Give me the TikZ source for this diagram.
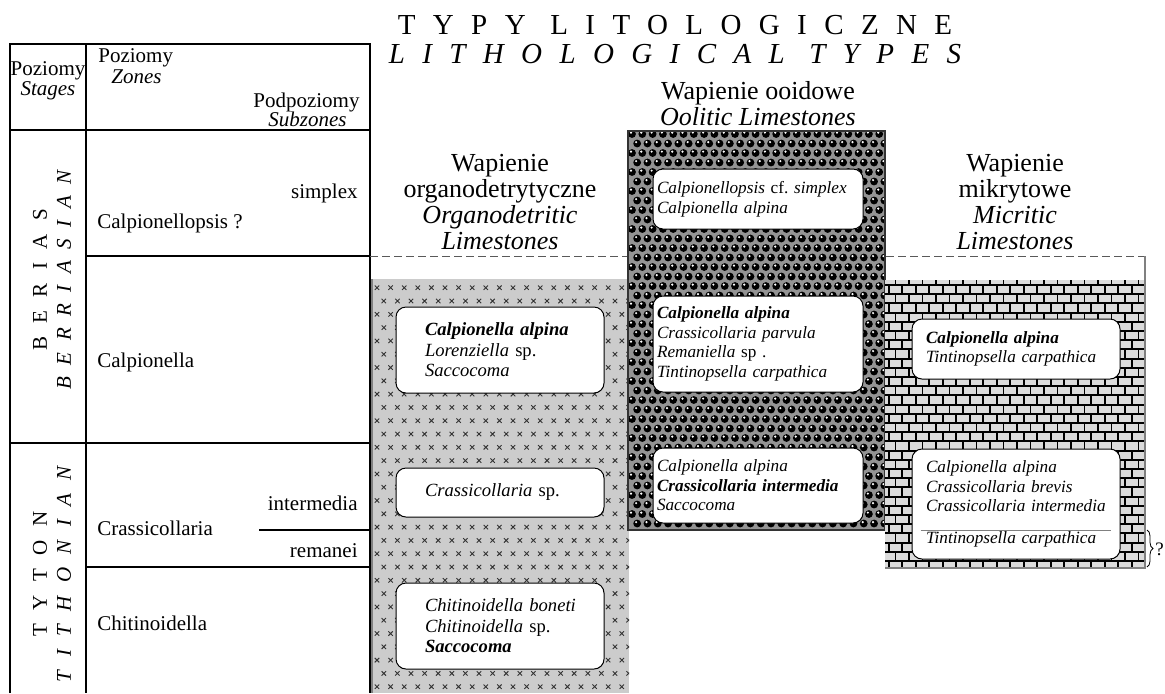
\documentclass[tikz,border=0pt]{standalone}
\usepackage{fontspec}
\setmainfont{Liberation Serif}
\usetikzlibrary{calc,decorations.pathreplacing}

\definecolor{detrgray}{gray}{0.80}
\definecolor{ooidgray}{gray}{0.58}
\definecolor{brickgray}{gray}{0.86}
\definecolor{dashgray}{gray}{0.35}

\newcommand{\spaced}[2]{{\addfontfeature{LetterSpace=#1}#2}}
% left padding inside a fossil box, lines kept unbroken
\newcommand{\fossiltext}[2]{\leftskip=#1\rightskip=-15pt plus 1fil\relax #2\par}

\tikzset{
  tabline/.style={line width=0.6pt},
  tabtext/.style={inner sep=0pt, font=\fontsize{10.5}{12}\selectfont},
  headtext/.style={inner sep=0pt, align=center, font=\fontsize{13}{13}\selectfont},
  titletext/.style={inner sep=0pt, font=\fontsize{14.5}{14.5}\selectfont},
  fossilbox/.style={draw, fill=white, rounded corners=5pt, line width=0.5pt,
    inner xsep=1pt, inner ysep=0pt, align=left, font=\fontsize{9.3}{10.3}\selectfont},
  smallbox/.style={fossilbox, font=\fontsize{8.6}{9.8}\selectfont},
  xmark/.style={line width=0.45pt, black!80},
  brickline/.style={line width=0.95pt, black},
}

\begin{document}
\begin{tikzpicture}[x=0.5pt,y=-0.5pt]
\useasboundingbox (0,0) rectangle (1165,693);

% title
\node[titletext] (titlePL) at (675,25) {\spaced{60}{TYPY LITOLOGICZNE}};
\node[titletext] (titleEN) at (675,54) {\itshape\spaced{60}{LITHOLOGICAL TYPES}};

% stratigraphic table
\draw[tabline] (10,693) -- (10,44) -- (370,44) -- (370,693);
\draw[tabline] (86,44) -- (86,693);
\draw[tabline] (10,130) -- (370,130);
\draw[tabline] (86,256) -- (370,256);
\draw[tabline] (10,443) -- (370,443);
\draw[tabline] (259,530) -- (370,530);
\draw[tabline] (86,567) -- (370,567);

\node[tabtext] (stagesPL) at (48,71) {Poziomy};
\node[tabtext] (stagesEN) at (48,91) {\textit{Stages}};
\node[tabtext, anchor=west] (zonesPL) at (98,58) {Poziomy};
\node[tabtext, anchor=west] (zonesEN) at (111,77) {\textit{Zones}};
\node[tabtext, anchor=west] (subPL) at (253,102) {Podpoziomy};
\node[tabtext, anchor=west] (subEN) at (268,119) {\textit{Subzones}};

\node[tabtext, rotate=90, align=center] (stageBer) at (52,280)
  {\spaced{64}{BERIAS}\\\itshape\spaced{55}{BERRIASIAN}};
\node[tabtext, rotate=90, align=center] (stageTyt) at (52,574)
  {\spaced{64}{TYTON}\\\itshape\spaced{64}{TITHONIAN}};

\node[tabtext, anchor=east] (simplex) at (358,193) {simplex};
\node[tabtext, anchor=west] (zoneCps) at (97,223) {Calpionellopsis ?};
\node[tabtext, anchor=west] (zoneCal) at (97,362) {Calpionella};
\node[tabtext, anchor=west] (zoneCra) at (97,528) {Crassicollaria};
\node[tabtext, anchor=east] (intermedia) at (358,503) {intermedia};
\node[tabtext, anchor=east] (remanei) at (358,551) {remanei};
\node[tabtext, anchor=west] (zoneChi) at (97,623) {Chitinoidella};

% boundary Berias/Calpionellopsis in the columns
\draw[dashgray, dash pattern=on 4pt off 2pt, line width=0.5pt] (370,256) -- (1145,256);

% organodetritic limestones
\fill[detrgray] (371,279) rectangle (629,693);
\begin{scope}
  \clip (371,279) rectangle (629,693);
  \foreach \r in {0,...,31}
    \foreach \c in {0,...,19}
      \draw[xmark, shift={({377+13.6*\c+6.8*mod(\r,2)},{287.7+13.3*\r})}]
        (-2.2,-2.2) -- (2.2,2.2) (-2.2,2.2) -- (2.2,-2.2);
\end{scope}
\draw[gray, line width=0.8pt] (372,279) -- (372,693);

% oolitic limestones
\fill[ooidgray] (628,131) rectangle (885,530);
\begin{scope}
  \clip (628,131) rectangle (885,530);
  \foreach \r in {0,...,42}
    \foreach \c in {0,...,25} {
      \begin{scope}[shift={({632+10.3*\c+5.15*mod(\r,2)},{134+9.5*\r})}]
        \fill[black] (0,0) circle (3.9);
        \fill[white] (-1,-1.4) circle (1.2);
      \end{scope}
    }
\end{scope}
\draw[line width=0.6pt, black!80] (628,131) rectangle (885,530);

% micritic limestones
\fill[brickgray] (885,280) rectangle (1145,568);
\begin{scope}
  \clip (885,280) rectangle (1145,568);
  \foreach \r in {0,...,31} {
    \draw[brickline] (885,{285+9.2*\r}) -- (1145,{285+9.2*\r});
    \foreach \c in {0,...,20}
      \draw[brickline] ({882+13.5*\c+6.75*mod(\r,2)},{275.8+9.2*\r}) -- +(0,9.2);
  }
\end{scope}
\draw[gray, line width=0.6pt] (1145,256) -- (1145,568) -- (885,568);

% column headings
\node[headtext] (headDetr) at (500,202)
  {Wapienie\\organodetrytyczne\\\textit{Organodetritic}\\\textit{Limestones}};
\node[headtext] (headOoid) at (758,104) {Wapienie ooidowe\\\textit{Oolitic Limestones}};
\node[headtext] (headMicr) at (1015,202)
  {Wapienie\\mikrytowe\\\textit{Micritic}\\\textit{Limestones}};

% fossil boxes
\node[fossilbox, text width=102pt, minimum height=43pt] (detrA) at (500,350)
  {\fossiltext{13.5pt}{\textbf{\textit{Calpionella alpina}}\\\textit{Lorenziella} sp.\\\textit{Saccocoma}}};
\node[fossilbox, text width=102pt, minimum height=24.5pt] (detrB) at (500,492.5)
  {\fossiltext{13.5pt}{\textit{Crassicollaria} sp.}};
\node[fossilbox, text width=102pt, minimum height=43pt] (detrC) at (500,626)
  {\fossiltext{13.5pt}{\textit{Chitinoidella boneti}\\\textit{Chitinoidella} sp.\\\textbf{\textit{Saccocoma}}}};

\node[smallbox, text width=103pt, minimum height=30pt] (ooidD) at (758,199)
  {\fossiltext{1pt}{\textit{Calpionellopsis} cf.\ \textit{simplex}\\\textit{Calpionella alpina}}};
\node[smallbox, text width=103pt, minimum height=48pt] (ooidE) at (758,344)
  {\fossiltext{1pt}{\textbf{\textit{Calpionella alpina}}\\\textit{Crassicollaria parvula}\\\textit{Remaniella} sp .\\\textit{Tintinopsella carpathica}}};
\node[smallbox, text width=103pt, minimum height=37.5pt] (ooidF) at (758,485.5)
  {\fossiltext{1pt}{\textit{Calpionella alpina}\\\textbf{\textit{Crassicollaria intermedia}}\\\textit{Saccocoma}}};

\node[smallbox, text width=102pt, minimum height=30pt] (micG) at (1016,349)
  {\fossiltext{6pt}{\textbf{\textit{Calpionella alpina}}\\\textit{Tintinopsella carpathica}}};
\node[smallbox, text width=102pt, minimum height=55pt] (micH) at (1016,504)
  {\fossiltext{6pt}{\textit{Calpionella alpina}\\\textit{Crassicollaria brevis}\\\textit{Crassicollaria intermedia}\\[6pt]\textit{Tintinopsella carpathica}}};
\draw[gray, line width=0.5pt] ($(micH.south west)+(9,-29)$) -- ($(micH.south east)+(-10,-29)$);

% remanei in micritic limestones
\coordinate (braceTop) at (1147,530);
\coordinate (braceBot) at (1147,567);
\draw[decorate, decoration={brace, amplitude=3pt}, line width=0.4pt] (braceTop) -- (braceBot);
\node[tabtext, anchor=west, font=\fontsize{9.5}{10}\selectfont] (query) at (1155,549) {?};
\end{tikzpicture}
\end{document}
